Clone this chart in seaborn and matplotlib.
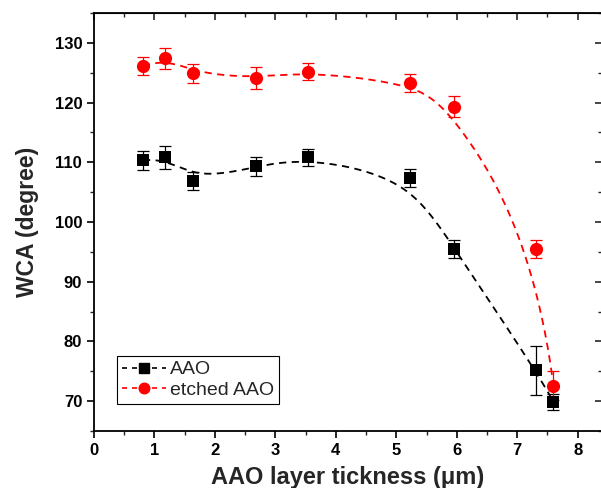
import numpy as np
import pandas as pd
import seaborn as sns
import matplotlib.pyplot as plt
from matplotlib.lines import Line2D
from matplotlib.ticker import MultipleLocator

# Espessura da camada AAO (um) e angulo de contato (WCA)
thickness = [0.81, 1.17, 1.64, 2.68, 3.54, 5.22, 5.95, 7.31, 7.60]
wca_aao = [110.3, 110.8, 106.9, 109.3, 110.8, 107.3, 95.5, 75.2, 69.9]
err_aao = [1.6, 1.9, 1.5, 1.6, 1.5, 1.5, 1.5, 4.1, 1.3]
wca_etched = [126.1, 127.4, 124.9, 124.1, 125.2, 123.2, 119.3, 95.5, 72.6]
err_etched = [1.5, 1.7, 1.6, 1.8, 1.5, 1.5, 1.8, 1.5, 2.4]


def bspline(px, py, n=300):
    # curva B-spline cubica (pontos de controle = dados), como no Origin
    pts = np.column_stack([px, py])
    m = len(pts)
    k = 3
    knots = np.concatenate([np.zeros(k), np.linspace(0, 1, m - k + 1), np.ones(k)])
    t = np.linspace(0, 1, n)
    t[-1] = 1 - 1e-9
    basis = np.zeros((n, len(knots) - 1))
    for i in range(len(knots) - 1):
        basis[:, i] = (t >= knots[i]) & (t < knots[i + 1])
    for d in range(1, k + 1):
        new = np.zeros((n, len(knots) - 1 - d))
        for i in range(len(knots) - 1 - d):
            a = knots[i + d] - knots[i]
            b = knots[i + d + 1] - knots[i + 1]
            left = (t - knots[i]) / a * basis[:, i] if a > 0 else 0
            right = (knots[i + d + 1] - t) / b * basis[:, i + 1] if b > 0 else 0
            new[:, i] = left + right
        basis = new
    curve = basis @ pts
    return curve[:, 0], curve[:, 1]


sns.set_style("ticks")
plt.rcParams["font.family"] = ["Liberation Sans", "DejaVu Sans"]

fig = plt.figure(figsize=(6.01, 4.88), dpi=100)
ax = fig.add_axes([0.1564, 0.1168, 0.845, 0.8566])

series = [
    ("AAO", wca_aao, err_aao, "black", "s", 8.5),
    ("etched AAO", wca_etched, err_etched, "#ff0000", "o", 9.5),
]

handles = []
for name, y, err, color, marker, ms in series:
    cx, cy = bspline(thickness, y)
    curve = pd.DataFrame({"x": cx, "y": cy})
    sns.lineplot(data=curve, x="x", y="y", ax=ax, color=color, lw=1.3,
                 linestyle=(0, (4, 3)), sort=False, estimator=None)
    ax.errorbar(thickness, y, yerr=err, fmt="none", ecolor=color,
                elinewidth=0.9, capsize=4, capthick=0.9, zorder=3)
    pts = pd.DataFrame({"x": thickness, "y": y})
    sns.scatterplot(data=pts, x="x", y="y", ax=ax, color=color, marker=marker,
                    s=ms ** 2, edgecolor=color, linewidth=0, zorder=4)
    handles.append(Line2D([], [], color=color, lw=1.2, linestyle=(0, (3, 3)),
                          marker=marker, markersize=ms * 0.8, label=name))

ax.set_xlim(0, 8.4)
ax.set_ylim(65, 135)
ax.xaxis.set_major_locator(MultipleLocator(1))
ax.xaxis.set_minor_locator(MultipleLocator(0.5))
ax.yaxis.set_major_locator(MultipleLocator(10))
ax.yaxis.set_minor_locator(MultipleLocator(5))
ax.set_yticks(range(70, 131, 10))

for s in ax.spines.values():
    s.set_linewidth(1.3)
    s.set_color("black")

ax.tick_params(axis="both", which="major", direction="out", length=5, width=1.2,
               labelsize=12, colors="black")
ax.tick_params(axis="both", which="minor", direction="out", length=3, width=1.0)
for lab in ax.get_xticklabels() + ax.get_yticklabels():
    lab.set_fontweight("bold")

# eixos de cima e da direita com ticks para dentro
top = ax.secondary_xaxis("top")
top.xaxis.set_major_locator(MultipleLocator(1))
top.xaxis.set_minor_locator(MultipleLocator(0.5))
top.tick_params(which="major", direction="in", length=5, width=1.2, labeltop=False)
top.tick_params(which="minor", direction="in", length=3, width=1.0)
right = ax.secondary_yaxis("right")
right.yaxis.set_major_locator(MultipleLocator(10))
right.yaxis.set_minor_locator(MultipleLocator(5))
right.tick_params(which="major", direction="in", length=5, width=1.2, labelright=False)
right.tick_params(which="minor", direction="in", length=3, width=1.0)

ax.set_xlabel("AAO layer tickness (\u03bcm)", fontsize=17, fontweight="bold", labelpad=6)
ax.set_ylabel("WCA (degree)", fontsize=16.5, fontweight="bold", labelpad=11)

ax.legend(handles=handles, loc="lower left", bbox_to_anchor=(0.045, 0.065),
          fontsize=14, frameon=True, fancybox=False, edgecolor="black",
          framealpha=1, handlelength=2.3, handletextpad=0.2, borderpad=0.25,
          labelspacing=0.15, borderaxespad=0)
ax.get_legend().get_frame().set_linewidth(0.8)

plt.savefig("out.png", dpi=100)
plt.close()
